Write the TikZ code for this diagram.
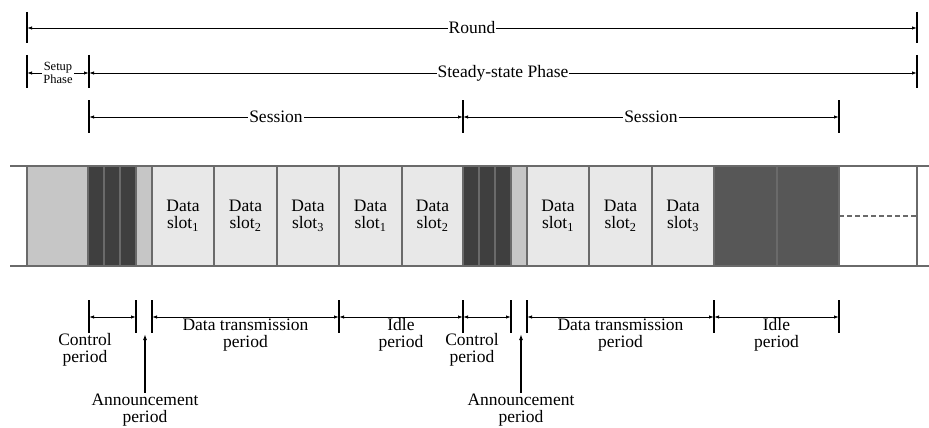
\documentclass[tikz,border=0pt]{standalone}
\usepackage{fontspec}
\setmainfont{Liberation Serif}
\usetikzlibrary{arrows.meta}

\definecolor{ctrlgray}{HTML}{3F3F3F}
\definecolor{idlegray}{HTML}{575757}
\definecolor{anngray}{HTML}{C6C6C6}
\definecolor{slotgray}{HTML}{E8E8E8}
\definecolor{edgegray}{HTML}{6A6A6A}

\begin{document}
\begin{tikzpicture}[x=1pt, y=-1pt,
  dimline/.style={line width=0.9pt, {Latex[length=5pt,width=3.4pt]}-{Latex[length=5pt,width=3.4pt]}},
  endtick/.style={line width=1.6pt},
  cell/.style={draw=edgegray, line width=1.2pt},
  lbl/.style={font=\fontsize{17.5}{17}\selectfont, align=center, inner sep=1pt},
  small/.style={font=\fontsize{12.5}{12.5}\selectfont, align=center, inner sep=1pt}]
  \useasboundingbox (0,0) rectangle (929,428);

  % round / phases / sessions
  \coordinate (R0) at (27,28);  \coordinate (R1) at (917,28);
  \coordinate (P0) at (27,73);  \coordinate (P1) at (89,73);  \coordinate (P2) at (917,73);
  \coordinate (S0) at (89,117); \coordinate (S1) at (463,117); \coordinate (S2) at (839,117);

  \draw[endtick] (27,12) -- (27,43);  \draw[endtick] (917,12) -- (917,43);
  \draw[endtick] (27,55) -- (27,88);  \draw[endtick] (89,55) -- (89,88);
  \draw[endtick] (917,55) -- (917,88);
  \draw[endtick] (89,100) -- (89,133); \draw[endtick] (463,100) -- (463,133);
  \draw[endtick] (839,100) -- (839,133);

  \draw[dimline] (R0) -- (R1) node[midway, fill=white, lbl] (round) {Round};
  \draw[dimline] (P0) -- (P1) node[midway, fill=white, small] (setup) {Setup\\Phase};
  \draw[dimline] (P1) -- (P2) node[midway, fill=white, lbl] (steady) {Steady-state Phase};
  \draw[dimline] (S0) -- (S1) node[midway, fill=white, lbl] (sess1) {Session};
  \draw[dimline] (S1) -- (S2) node[midway, fill=white, lbl] (sess2) {Session};

  % the frame
  \fill[anngray, cell] (27,166) rectangle (88,266);
  \fill[ctrlgray, cell] (88,166) rectangle (104,266);
  \fill[ctrlgray, cell] (104,166) rectangle (120,266);
  \fill[ctrlgray, cell] (120,166) rectangle (136,266);
  \fill[anngray, cell] (136,166) rectangle (152,266);
  \fill[slotgray, cell] (152,166) rectangle (214,266);
  \fill[slotgray, cell] (214,166) rectangle (277,266);
  \fill[slotgray, cell] (277,166) rectangle (339,266);
  \fill[slotgray, cell] (339,166) rectangle (402,266);
  \fill[slotgray, cell] (402,166) rectangle (463,266);
  \fill[ctrlgray, cell] (463,166) rectangle (479,266);
  \fill[ctrlgray, cell] (479,166) rectangle (495,266);
  \fill[ctrlgray, cell] (495,166) rectangle (511,266);
  \fill[anngray, cell] (511,166) rectangle (527,266);
  \fill[slotgray, cell] (527,166) rectangle (589,266);
  \fill[slotgray, cell] (589,166) rectangle (652,266);
  \fill[slotgray, cell] (652,166) rectangle (714,266);
  \fill[idlegray, cell] (714,166) rectangle (777,266);
  \fill[idlegray, cell] (777,166) rectangle (839,266);
  \draw[cell] (839,166) rectangle (917,266);
  \draw[cell] (10,166) -- (929,166);
  \draw[cell] (10,266) -- (929,266);
  \draw[edgegray, line width=1.2pt, dash pattern=on 5pt off 3pt] (839,216) -- (917,216);

  \node[lbl] (d1) at (183,216) {Data\\slot\textsubscript{1}};
  \node[lbl] (d2) at (245.5,216) {Data\\slot\textsubscript{2}};
  \node[lbl] (d3) at (308,216) {Data\\slot\textsubscript{3}};
  \node[lbl] (d4) at (370.5,216) {Data\\slot\textsubscript{1}};
  \node[lbl] (d5) at (432.5,216) {Data\\slot\textsubscript{2}};
  \node[lbl] (d6) at (558,216) {Data\\slot\textsubscript{1}};
  \node[lbl] (d7) at (620.5,216) {Data\\slot\textsubscript{2}};
  \node[lbl] (d8) at (683,216) {Data\\slot\textsubscript{3}};

  % periods
  \coordinate (C0) at (89,317);  \coordinate (C1) at (136,317);
  \coordinate (T0) at (152,317); \coordinate (T1) at (339,317);
  \coordinate (I0) at (463,317);
  \coordinate (C2) at (511,317);
  \coordinate (T2) at (527,317); \coordinate (T3) at (714,317);
  \coordinate (I1) at (839,317);

  \draw[endtick] (89,300) -- (89,333);   \draw[endtick] (136,300) -- (136,333);
  \draw[endtick] (152,300) -- (152,333); \draw[endtick] (339,300) -- (339,333);
  \draw[endtick] (463,300) -- (463,333); \draw[endtick] (511,300) -- (511,333);
  \draw[endtick] (527,300) -- (527,333); \draw[endtick] (714,300) -- (714,333);
  \draw[endtick] (839,300) -- (839,333);

  \draw[dimline] (C0) -- (C1);
  \draw[dimline] (T0) -- (T1) node[midway, below, lbl] (tx1) {Data transmission\\period};
  \draw[dimline] (T1) -- (I0) node[midway, below, lbl] (idle1) {Idle\\period};
  \draw[dimline] (I0) -- (C2);
  \draw[dimline] (T2) -- (T3) node[midway, below, lbl] (tx2) {Data transmission\\period};
  \draw[dimline] (T3) -- (I1) node[midway, below, lbl] (idle2) {Idle\\period};

  \node[lbl] (ctl1) at (85,350) {Control\\period};
  \node[lbl] (ctl2) at (472,350) {Control\\period};

  \coordinate (A1) at (145,334);
  \coordinate (A2) at (521,334);
  \node[lbl] (ann1) at (145,410) {Announcement\\period};
  \node[lbl] (ann2) at (521,410) {Announcement\\period};
  \draw[line width=1.2pt, -{Latex[length=6pt,width=4pt]}] (ann1.north) -- (A1);
  \draw[line width=1.2pt, -{Latex[length=6pt,width=4pt]}] (ann2.north) -- (A2);
\end{tikzpicture}
\end{document}
